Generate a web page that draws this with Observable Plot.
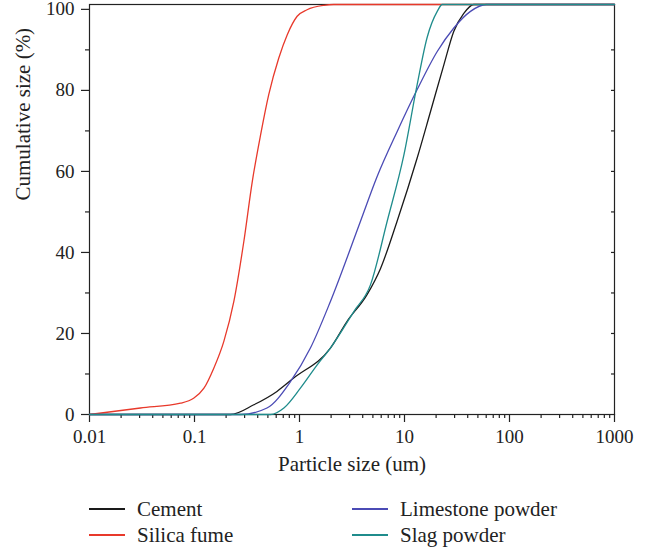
<!DOCTYPE html>
<html><head><meta charset="utf-8">
<script src="https://cdn.jsdelivr.net/npm/d3@7"></script>
<script src="https://cdn.jsdelivr.net/npm/@observablehq/plot@0.6"></script>
<style>
body{margin:0;background:#fff;font-family:"Liberation Serif",serif;color:#222;}
#wrap{position:relative;width:659px;height:552px;}
#legend{position:absolute;left:89px;top:496px;display:grid;grid-template-columns:263px auto;font-size:21px;line-height:26px;}
.item{display:flex;align-items:center;white-space:nowrap;}
.sw{display:inline-block;width:36px;height:1.5px;margin-right:12px;}
</style></head><body><div id="wrap"><div id="chart"></div><div id="legend"></div></div>
<script>
const seriesNames = ["Cement", "Silica fume", "Limestone powder", "Slag powder"];
const seriesColors = ["#1a1a1a", "#e8392b", "#4b4bb5", "#1f8c8c"];

const cementX = [0.01, 0.22, 0.367, 0.61, 0.88, 1.97, 2.84, 4.4, 5.9, 8.5, 13.2, 17.7, 23.7, 29.5, 36.7, 45.7, 1000];
const cementY = [0, 0, 2.4, 5.7, 9, 16.4, 23, 29.6, 36, 47.7, 63.3, 74.8, 86.3, 94.6, 99, 101.2, 101.2];

const silicaX = [0.01, 0.0306, 0.0736, 0.098, 0.123, 0.153, 0.19, 0.237, 0.295, 0.355, 0.426, 0.51, 0.635, 0.763, 0.95, 1.18, 1.71, 2.12, 1000];
const silicaY = [0, 1.6, 2.8, 4, 6.5, 11.5, 18, 27.9, 42.7, 57.5, 69, 79, 88, 93.7, 98.3, 99.9, 101, 101.2, 101.2];

const limeX = [0.01, 0.275, 0.49, 0.82, 1.27, 1.97, 3.81, 5.5, 8.5, 13.2, 20.5, 29.5, 42.5, 60, 1000];
const limeY = [0, 0, 1.6, 8.1, 16.4, 27.9, 47.7, 58.8, 69.8, 80.2, 89.6, 95.4, 99.5, 101.2, 101.2];

const slagX = [0.01, 0.53, 0.71, 1.02, 1.48, 1.97, 3.29, 4.74, 6.84, 9.86, 13.2, 16.4, 20.5, 22.9, 1000];
const slagY = [0, 0, 1.6, 6.5, 12.3, 16.4, 25.4, 32, 47.7, 64, 81.4, 93, 99.5, 101.2, 101.2];

const xMajorTicks = [0.01, 0.1, 1, 10, 100, 1000];
const xTickLabels = ["0.01", "0.1", "1", "10", "100", "1000"];
const xDecades = [0.01, 0.1, 1, 10, 100];
const xMinorMultipliers = [2, 3, 4, 5, 6, 7, 8, 9];
const yMajorTicks = [0, 20, 40, 60, 80, 100];
const yTickLabels = ["0", "20", "40", "60", "80", "100"];
const yMinorTicks = [10, 30, 50, 70, 90];
const yRightTicks = [10, 20, 30, 40, 50, 60, 70, 80, 90];

const xSeries = [cementX, silicaX, limeX, slagX];
const ySeries = [cementY, silicaY, limeY, slagY];
const rows = seriesNames.flatMap((name, s) => xSeries[s].map((x, i) => ({name, x, y: ySeries[s][i]})));
const xMinorTicks = xDecades.flatMap(d => xMinorMultipliers.map(m => d * m));

const chart = Plot.plot({
  width: 659, height: 480,
  marginLeft: 89, marginRight: 45, marginTop: 4, marginBottom: 66,
  style: {fontFamily: '"Liberation Serif", serif', fontSize: "19px", color: "#222", background: "#fff", overflow: "visible"},
  x: {type: "log", domain: [0.01, 1000]},
  y: {domain: [0, 101.2]},
  color: {domain: seriesNames, range: seriesColors},
  marks: [
    Plot.frame({stroke: "#222", strokeWidth: 1.2}),
    Plot.axisX(xMajorTicks, {tickSize: 8, tickPadding: 7, tickFormat: d => xTickLabels[xMajorTicks.indexOf(d)], label: null, strokeWidth: 1.2}),
    Plot.axisX(xMinorTicks, {tickSize: 4, tickFormat: () => "", label: null, strokeWidth: 1.2}),
    Plot.axisY(yMajorTicks, {tickSize: 8, tickPadding: 7, tickFormat: d => yTickLabels[yMajorTicks.indexOf(d)], label: null, strokeWidth: 1.2}),
    Plot.axisY(yMinorTicks, {tickSize: 4, tickFormat: () => "", label: null, strokeWidth: 1.2}),
    Plot.axisY(yRightTicks, {anchor: "right", tickSize: -4, tickFormat: () => "", label: null, strokeWidth: 1.2}),
    Plot.line(rows, {x: "x", y: "y", z: "name", stroke: "name", strokeWidth: 1.3, curve: "monotone-x"}),
    Plot.text(["Particle size (um)"], {text: d => d, frameAnchor: "bottom", dy: 56, fontSize: 21, fill: "#222"}),
    Plot.text(["Cumulative size (%)"], {text: d => d, frameAnchor: "left", rotate: -90, dx: -66, dy: -9, fontSize: 21, fill: "#222"})
  ]
});
document.getElementById("chart").append(chart);

const legend = document.getElementById("legend");
const order = [0, 2, 1, 3];
for (const s of order) {
  const item = document.createElement("div");
  item.className = "item";
  const sw = document.createElement("span");
  sw.className = "sw";
  sw.style.background = seriesColors[s];
  item.append(sw, document.createTextNode(seriesNames[s]));
  legend.append(item);
}
</script></body></html>
